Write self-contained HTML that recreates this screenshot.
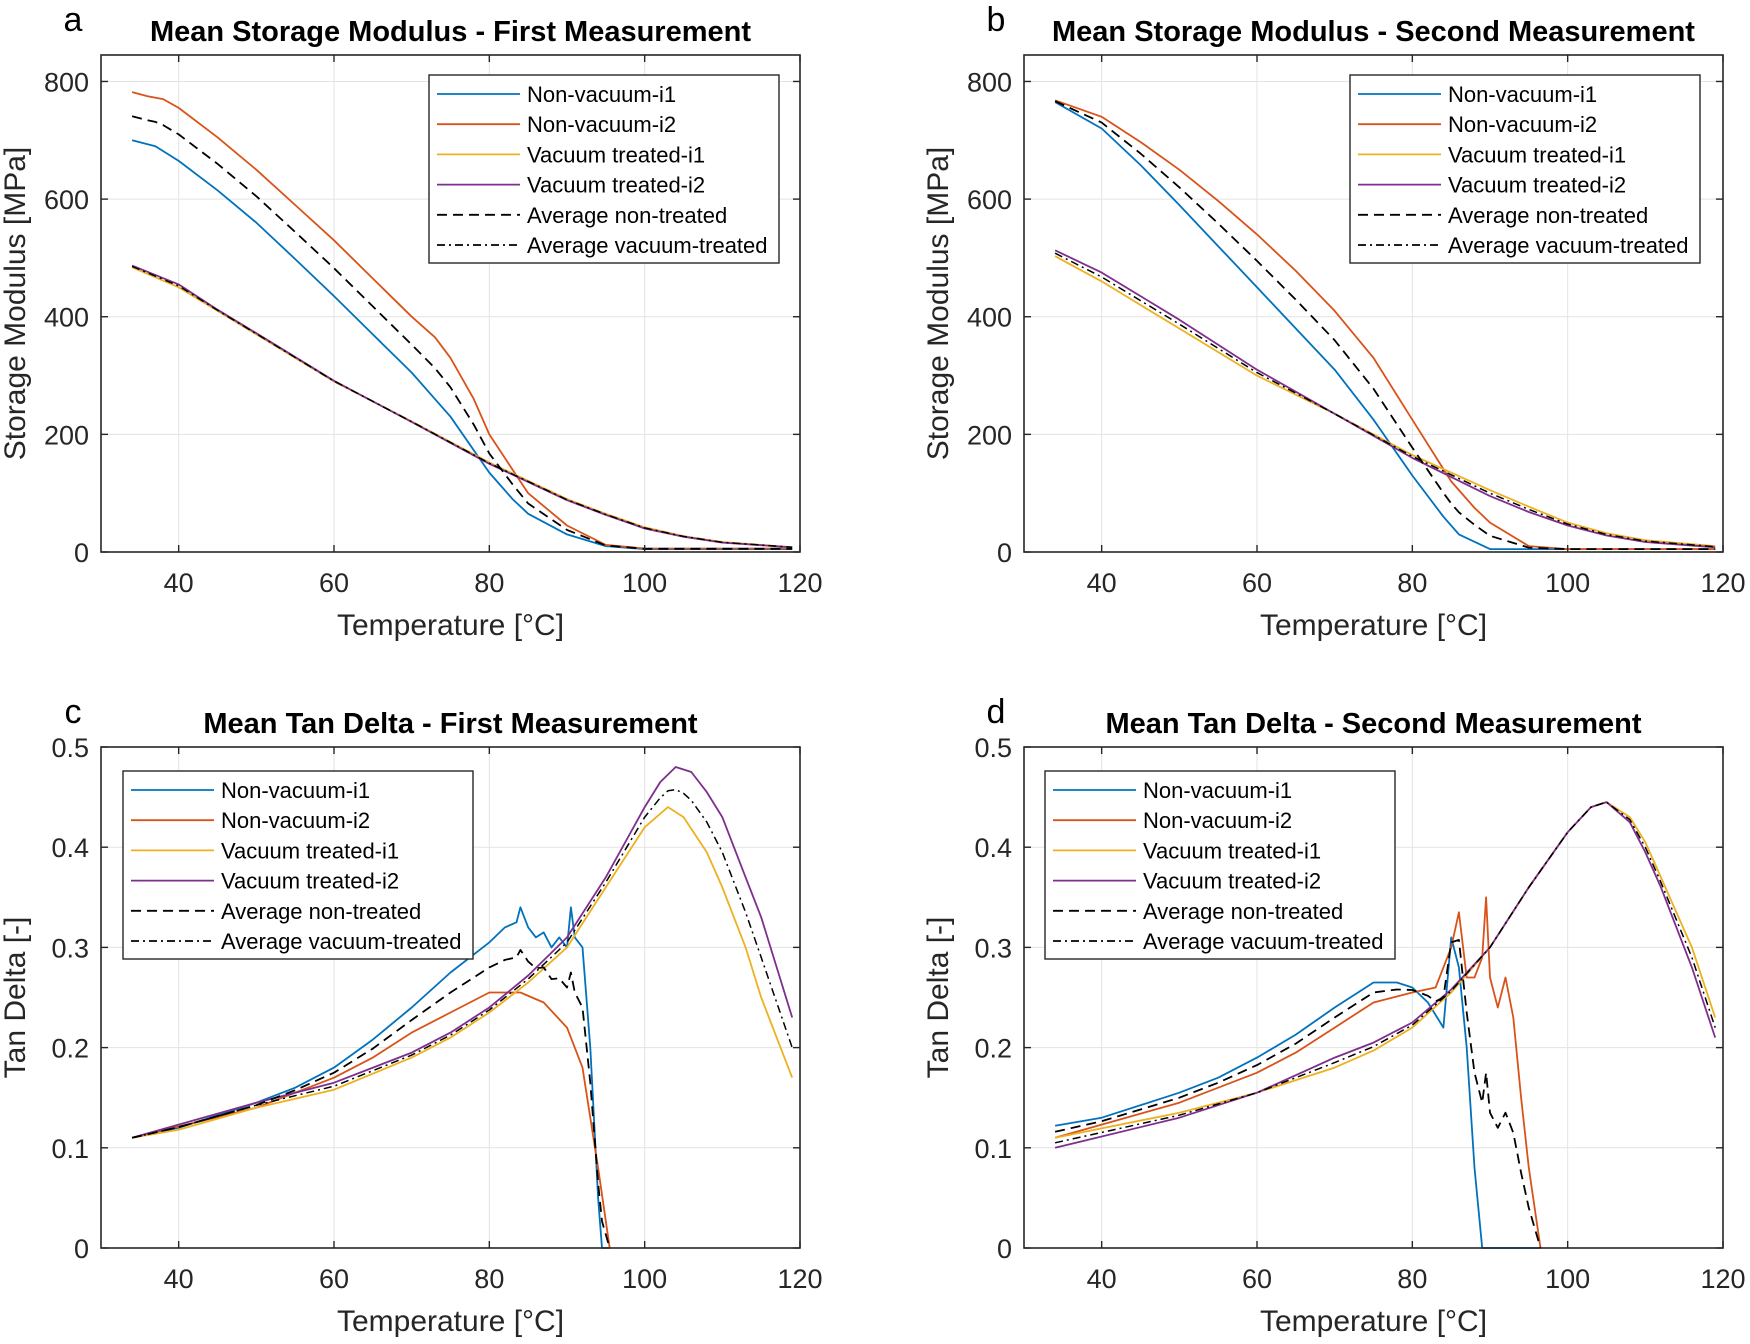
<!DOCTYPE html>
<html><head><meta charset="utf-8">
<style>
html,body{margin:0;padding:0;background:#fff;}
svg text{font-family:"Liberation Sans",Arial,sans-serif;fill:#262626;}
</style></head>
<body>
<svg id="s" width="1750" height="1339" viewBox="0 0 1750 1339" xmlns="http://www.w3.org/2000/svg"></svg>
<script>
const S=document.getElementById('s');
let out='<rect width="1750" height="1339" fill="#fff"/>';
const C={b:'#0072BD',r:'#D95319',y:'#EDB120',p:'#7E2F8E'};
function interp(pts,x){
  if(x<=pts[0][0])return pts[0][1];
  for(let i=1;i<pts.length;i++){if(x<=pts[i][0]){const [x0,y0]=pts[i-1],[x1,y1]=pts[i];return y0+(y1-y0)*(x-x0)/(x1-x0);}}
  return pts[pts.length-1][1];
}
function avg(a,b){
  const xs=[...new Set([...a.map(p=>p[0]),...b.map(p=>p[0])])].sort((u,v)=>u-v);
  return xs.map(x=>[x,(interp(a,x)+interp(b,x))/2]);
}
function panel(o){
  const {L,T,W,H,ymax,yt,ylab,title,letter,series,leg,yfmt}=o;
  const X=v=>L+(v-30)/90*W, Y=v=>T+H-(v/ymax)*H;
  for(let v=40;v<120;v+=20){out+=`<line x1="${X(v)}" y1="${T}" x2="${X(v)}" y2="${T+H}" stroke="#e3e3e3" stroke-width="1"/>`;}
  yt.forEach(v=>{if(v>0)out+=`<line x1="${L}" y1="${Y(v)}" x2="${L+W}" y2="${Y(v)}" stroke="#e3e3e3" stroke-width="1"/>`;});
  series.forEach(s=>{
    const d=s.pts.map((p,i)=>(i?'L':'M')+X(p[0]).toFixed(1)+' '+Y(Math.max(0,p[1])).toFixed(1)).join(' ');
    out+=`<path d="${d}" fill="none" stroke="${s.c}" stroke-width="${s.w||1.8}" stroke-linejoin="round" ${s.da?`stroke-dasharray="${s.da}"`:''}/>`;
  });
  out+=`<rect x="${L}" y="${T}" width="${W}" height="${H}" fill="none" stroke="#262626" stroke-width="1.6"/>`;
  for(let v=40;v<=120;v+=20){
    out+=`<line x1="${X(v)}" y1="${T+H}" x2="${X(v)}" y2="${T+H-7}" stroke="#262626" stroke-width="1.4"/><line x1="${X(v)}" y1="${T}" x2="${X(v)}" y2="${T+7}" stroke="#262626" stroke-width="1.4"/>`;
    out+=`<text x="${X(v)}" y="${T+H+40}" font-size="27" text-anchor="middle">${v}</text>`;
  }
  yt.forEach(v=>{
    out+=`<line x1="${L}" y1="${Y(v)}" x2="${L+7}" y2="${Y(v)}" stroke="#262626" stroke-width="1.4"/><line x1="${L+W}" y1="${Y(v)}" x2="${L+W-7}" y2="${Y(v)}" stroke="#262626" stroke-width="1.4"/>`;
    out+=`<text x="${L-12}" y="${Y(v)+10}" font-size="27" text-anchor="end">${yfmt(v)}</text>`;
  });
  out+=`<text x="${L+W/2}" y="${T+H+83}" font-size="30" text-anchor="middle">Temperature [°C]</text>`;
  out+=`<text transform="translate(${L-76},${T+H/2}) rotate(-90)" font-size="30" text-anchor="middle">${ylab}</text>`;
  out+=`<text x="${L+W/2}" y="${T-14}" font-size="29" font-weight="bold" text-anchor="middle" style="fill:#000">${title}</text>`;
  out+=`<text x="${L-28}" y="${T-24}" font-size="34" text-anchor="middle" style="fill:#000">${letter}</text>`;
  const lx=leg[0],ly=leg[1];
  out+=`<rect x="${lx}" y="${ly}" width="350" height="188" fill="#fff" stroke="#262626" stroke-width="1.4"/>`;
  const names=['Non-vacuum-i1','Non-vacuum-i2','Vacuum treated-i1','Vacuum treated-i2','Average non-treated','Average vacuum-treated'];
  const ls=[[C.b,''],[C.r,''],[C.y,''],[C.p,''],['#000','10 6'],['#000','8 4 2 4']];
  names.forEach((n,i)=>{
    const yy=ly+19+i*30.2;
    out+=`<line x1="${lx+8}" y1="${yy}" x2="${lx+91}" y2="${yy}" stroke="${ls[i][0]}" stroke-width="1.8" ${ls[i][1]?`stroke-dasharray="${ls[i][1]}"`:''}/>`;
    out+=`<text x="${lx+98}" y="${yy+8}" font-size="22" style="fill:#000">${n}</text>`;
  });
}
function mk(b,r,y,p){return [
 {pts:b,c:C.b},{pts:r,c:C.r},{pts:y,c:C.y},{pts:p,c:C.p},
 {pts:avg(b,r),c:'#000',da:'10 6'},{pts:avg(y,p),c:'#000',da:'8 4 2 4',w:1.5}];}
panel({L:101,T:55,W:699,H:497,ymax:845,yt:[0,200,400,600,800],ylab:'Storage Modulus [MPa]',title:'Mean Storage Modulus - First Measurement',letter:'a',leg:[429,75],yfmt:v=>v,
series:mk(
[[34,700],[37,690],[40,665],[45,615],[50,560],[55,498],[60,435],[65,370],[70,305],[75,230],[80,135],[83,90],[85,65],[90,30],[95,10],[100,5],[119,5]],
[[34,782],[36,775],[38,770],[40,755],[45,705],[50,650],[55,590],[60,530],[65,465],[70,400],[73,365],[75,330],[78,260],[80,200],[83,140],[85,100],[90,45],[95,12],[100,6],[119,6]],
[[34,484],[40,450],[45,410],[50,370],[60,290],[70,222],[80,152],[90,90],[95,65],[100,42],[105,27],[110,17],[119,8]],
[[34,487],[40,455],[45,412],[50,372],[60,291],[70,221],[80,150],[90,88],[95,63],[100,40],[105,26],[110,16],[119,8]])});
panel({L:1024,T:55,W:699,H:497,ymax:845,yt:[0,200,400,600,800],ylab:'Storage Modulus [MPa]',title:'Mean Storage Modulus - Second Measurement',letter:'b',leg:[1350,75],yfmt:v=>v,
series:mk(
[[34,765],[40,720],[45,658],[50,590],[55,520],[60,450],[65,380],[70,310],[75,225],[80,130],[84,60],[86,30],[90,5],[119,5]],
[[34,768],[40,740],[45,697],[50,650],[55,597],[60,540],[65,478],[70,410],[75,330],[80,225],[85,120],[88,75],[90,50],[95,10],[100,5],[119,5]],
[[34,503],[40,460],[45,420],[50,380],[60,300],[70,235],[80,165],[90,105],[95,77],[100,50],[105,32],[110,20],[119,10]],
[[34,513],[40,475],[45,435],[50,395],[60,310],[70,235],[80,160],[90,95],[95,68],[100,45],[105,28],[110,17],[119,8]])});
const tf=v=>v===0?'0':String(v);
panel({L:101,T:747,W:699,H:501,ymax:0.5,yt:[0,0.1,0.2,0.3,0.4,0.5],ylab:'Tan Delta [-]',title:'Mean Tan Delta - First Measurement',letter:'c',leg:[123,771],yfmt:tf,
series:mk(
[[34,.11],[40,.12],[50,.145],[55,.16],[60,.18],[65,.208],[70,.24],[75,.275],[80,.305],[82,.32],[83.5,.325],[84,.34],[85,.32],[86,.31],[87,.315],[88,.30],[89,.31],[90,.3],[90.5,.34],[91,.31],[92,.3],[93,.2],[94,.05],[94.5,0],[95.5,0]],
[[34,.11],[50,.14],[60,.17],[65,.19],[70,.215],[75,.235],[80,.255],[84,.255],[87,.245],[90,.22],[92,.18],[94,.08],[95.5,0]],
[[34,.11],[40,.118],[50,.14],[60,.158],[70,.19],[75,.21],[80,.235],[85,.265],[90,.30],[95,.36],[100,.42],[103,.44],[105,.43],[108,.395],[110,.36],[113,.3],[115,.25],[119,.17]],
[[34,.11],[50,.145],[60,.165],[70,.195],[75,.215],[80,.24],[85,.272],[90,.31],[95,.37],[100,.44],[102,.465],[104,.48],[106,.475],[108,.455],[110,.43],[113,.37],[115,.33],[117,.28],[119,.23]])});
panel({L:1024,T:747,W:699,H:501,ymax:0.5,yt:[0,0.1,0.2,0.3,0.4,0.5],ylab:'Tan Delta [-]',title:'Mean Tan Delta - Second Measurement',letter:'d',leg:[1045,771],yfmt:tf,
series:mk(
[[34,.122],[40,.13],[50,.155],[55,.17],[60,.19],[65,.213],[70,.24],[75,.265],[78,.265],[80,.26],[82,.245],[84,.22],[85,.31],[86,.28],[87,.2],[88,.08],[89,0],[96.5,0]],
[[34,.11],[50,.145],[60,.175],[65,.195],[70,.22],[75,.245],[80,.255],[83,.26],[85,.3],[86,.335],[87,.27],[88,.27],[89,.29],[89.5,.35],[90,.27],[91,.24],[92,.27],[93,.23],[94,.15],[95,.08],[96.5,0]],
[[34,.11],[50,.135],[60,.155],[70,.18],[75,.197],[80,.22],[85,.255],[90,.3],[95,.36],[100,.415],[103,.44],[105,.445],[108,.43],[110,.405],[112,.37],[116,.3],[119,.23]],
[[34,.10],[50,.13],[60,.155],[70,.19],[75,.205],[80,.225],[85,.258],[90,.3],[95,.36],[100,.415],[103,.44],[105,.445],[108,.425],[110,.395],[112,.36],[116,.28],[119,.21]])});
S.innerHTML=out;
</script>
</body></html>
